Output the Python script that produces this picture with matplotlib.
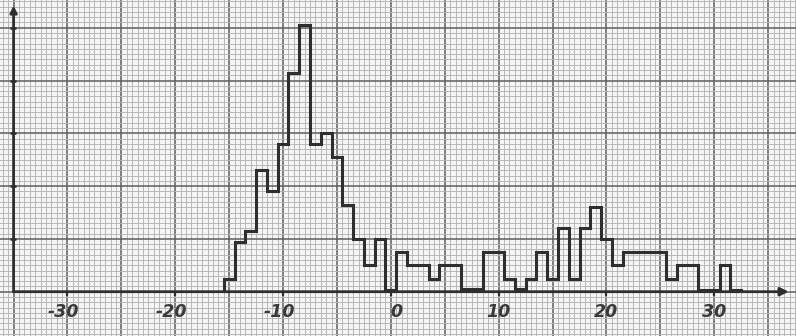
import numpy as np
import matplotlib
matplotlib.use("Agg")
import matplotlib.pyplot as plt

# Histogram: bin centres (unit-wide bins) and heights in grid squares
bin_centers = list(range(-15, 33))
heights = [2.5, 9.5, 11.5, 23, 19, 28, 41.5, 50.5, 28, 30,
           25.5, 16.5, 10, 5, 10, 0.3, 7.5, 5, 5, 2.5,
           5, 5, 0.5, 0.5, 7.5, 7.5, 2.5, 0.5, 2.5, 7.5,
           2.5, 12, 2.5, 12, 16, 10, 5, 7.5, 7.5, 7.5,
           7.5, 2.5, 5, 5, 0.3, 0.3, 5, 0.3]
tick_values = [-30, -20, -10, 0, 10, 20, 30]
tick_labels = ["-30", "-20", "-10", "0", "10", "20", "30"]

edges = np.concatenate([np.array(bin_centers) - 0.5, [bin_centers[-1] + 0.5]])

ink = "#2e2e2e"
paper = "#f5f5f5"

fig = plt.figure(figsize=(7.96, 3.36), dpi=100)
fig.patch.set_facecolor(paper)
ax = fig.add_axes([0, 0, 1, 1])
ax.set_facecolor(paper)
ax.set_xlim(-36.26, 37.58)
ax.set_ylim(-8.39, 55.25)

# graph-paper grid: fine every 0.5 in x / 1 in y, heavy every 5 / 10
ax.set_xticks(np.arange(-35, 40, 5))
ax.set_xticks(np.arange(-36, 38, 0.5), minor=True)
ax.set_yticks(np.arange(0, 60, 10))
ax.set_yticks(np.arange(-8, 56, 1), minor=True)
ax.grid(which="minor", color="#b4b4b4", lw=0.65)
ax.grid(which="major", color="#5e5e5e", lw=1.1)
ax.tick_params(which="both", length=0, labelbottom=False, labelleft=False)
for s in ax.spines.values():
    s.set_visible(False)
ax.set_axisbelow(True)

# axes with arrowheads
ax.annotate("", xy=(36.9, 0), xytext=(-35, 0),
            arrowprops=dict(arrowstyle="-|>", lw=2.0, color=ink,
                            mutation_scale=12, shrinkA=0, shrinkB=0))
ax.annotate("", xy=(-35, 54.2), xytext=(-35, 0),
            arrowprops=dict(arrowstyle="-|>", lw=2.0, color=ink,
                            mutation_scale=10, shrinkA=0, shrinkB=0))
ax.hlines([10, 20, 30, 40, 50], -35.3, -34.8, color=ink, lw=1.8)
ax.vlines(tick_values, -0.9, 0, color=ink, lw=1.6)

# histogram outline
ax.stairs(heights, edges, baseline=0, fill=False, color=ink, lw=2.2)

for v, lab in zip(tick_values, tick_labels):
    ax.text(v + 1.1, -3.85, lab, ha="right", va="center",
            fontsize=12.5, style="italic", fontweight="bold", color="#3a3a3a")

fig.savefig("out.png", dpi=100, facecolor=paper)
